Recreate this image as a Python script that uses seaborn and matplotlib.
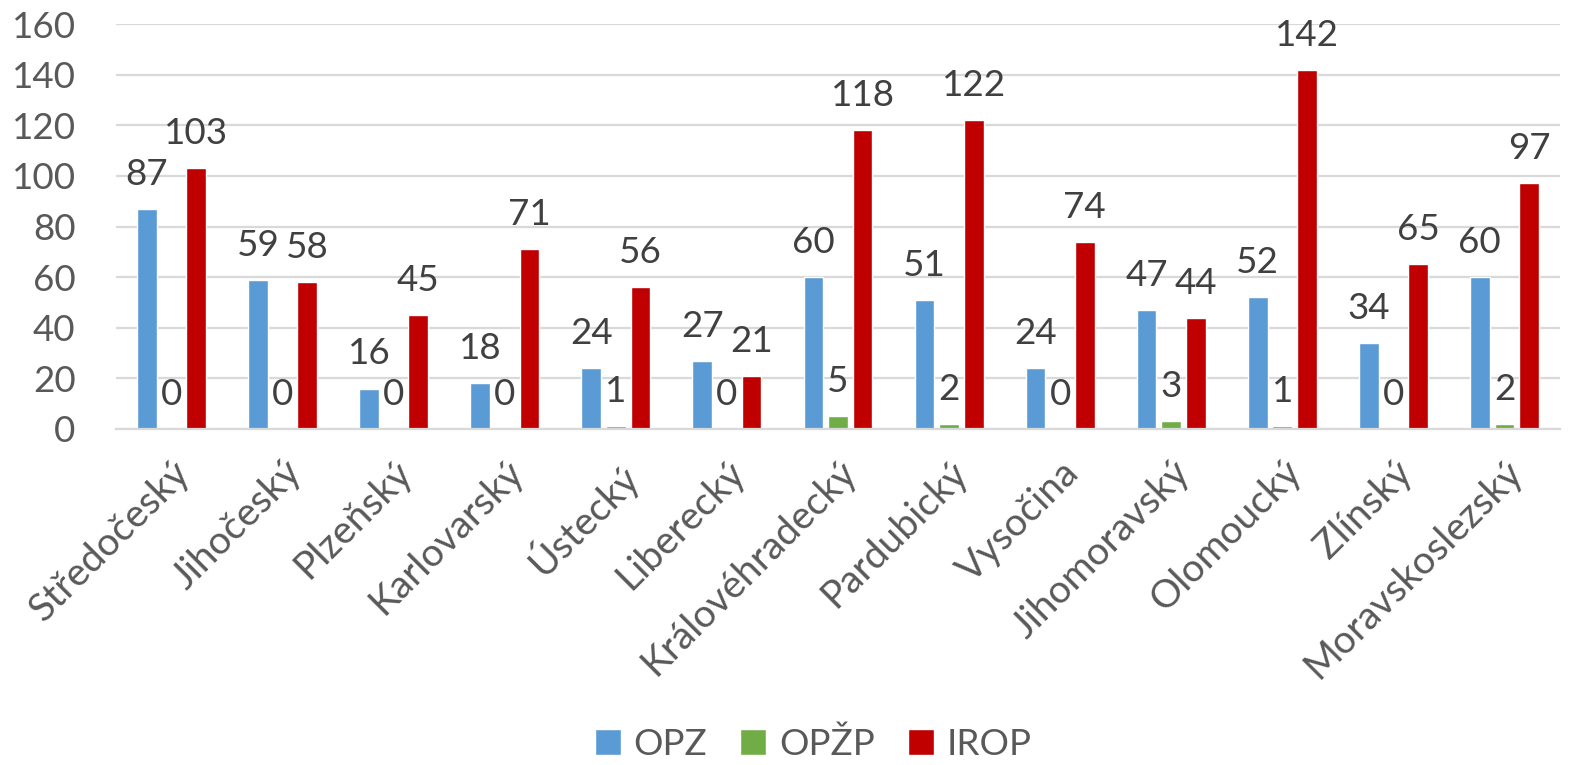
import seaborn as sns
import matplotlib.pyplot as plt
import pandas as pd

regions = [
    "Středočeský", "Jihočeský", "Plzeňský", "Karlovarský", "Ústecký",
    "Liberecký", "Královéhradecký", "Pardubický", "Vysočina",
    "Jihomoravský", "Olomoucký", "Zlínský", "Moravskoslezský",
]
programs = ["OPZ", "OPŽP", "IROP"]
opz = [87, 59, 16, 18, 24, 27, 60, 51, 24, 47, 52, 34, 60]
opzp = [0, 0, 0, 0, 1, 0, 5, 2, 0, 3, 1, 0, 2]
irop = [103, 58, 45, 71, 56, 21, 118, 122, 74, 44, 142, 65, 97]
colors = ["#5B9BD5", "#70AD47", "#C00000"]
yticks = [0, 20, 40, 60, 80, 100, 120, 140, 160]

text_color = "#595959"
grid_color = "#D9D9D9"
fs = 26.5

df = pd.DataFrame({
    "Kraj": regions * 3,
    "Program": [p for p in programs for _ in regions],
    "Počet": opz + opzp + irop,
})

sns.set_theme(style="white")
plt.rcParams["font.family"] = ["Lato", "DejaVu Sans"]

fig = plt.figure(figsize=(15.79, 7.65), dpi=100)
ax = fig.add_axes([116 / 1579, 1 - 429 / 765, (1560 - 116) / 1579, (429 - 24) / 765])

sns.barplot(
    data=df, x="Kraj", y="Počet", hue="Program",
    palette=colors, saturation=1, width=0.665, gap=0.2,
    ax=ax, legend=True,
)

for c in ax.containers:
    ax.bar_label(c, padding=13, fontsize=fs, color="#404040")

ax.set_ylim(0, 160)
ax.set_xlim(-0.5, len(regions) - 0.5)
ax.set_yticks(yticks)
ax.yaxis.grid(True, color=grid_color, linewidth=1.6)
ax.set_axisbelow(True)
for side in ["top", "right", "left"]:
    ax.spines[side].set_visible(False)
ax.spines["bottom"].set_color(grid_color)
ax.spines["bottom"].set_linewidth(1.6)

ax.set_xlabel("")
ax.set_ylabel("")
ax.tick_params(axis="y", length=0, pad=29, labelsize=fs, labelcolor=text_color)
ax.tick_params(axis="x", length=0, pad=18, labelsize=28, labelcolor=text_color)
plt.setp(ax.get_xticklabels(), rotation=45, ha="right", rotation_mode="anchor")

handles, labels = ax.get_legend_handles_labels()
ax.get_legend().remove()
leg = fig.legend(
    handles, labels, loc="center", bbox_to_anchor=(0.515, 0.027),
    ncol=3, frameon=False, fontsize=fs, handlelength=0.7, handleheight=0.7,
    handletextpad=0.35, columnspacing=0.9, borderpad=0.1,
)
for t in leg.get_texts():
    t.set_color(text_color)

fig.savefig("out.png", dpi=100)
